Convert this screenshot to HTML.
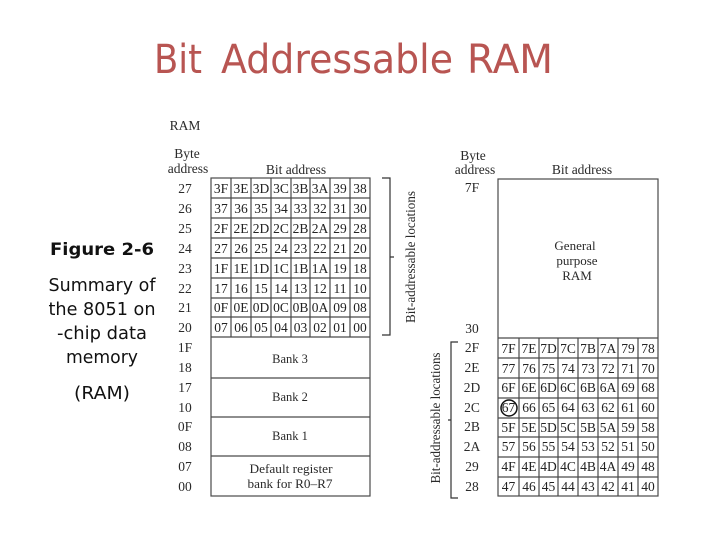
<!DOCTYPE html>
<html>
<head>
<meta charset="utf-8">
<style>
html,body{margin:0;padding:0;background:#fff;}
svg{display:block;}
.s{font-family:"Liberation Serif",serif;font-size:13.5px;fill:#2a2a2a;text-anchor:middle;}
.c{font-family:"Liberation Serif",serif;font-size:13.5px;fill:#222;text-anchor:middle;}
.f{font-family:"DejaVu Sans",sans-serif;font-size:18px;fill:#111;text-anchor:middle;}
.t{font-family:"DejaVu Sans",sans-serif;font-size:40px;fill:#b85552;}
.g{stroke:#4a4a4a;stroke-width:1.2;fill:none;}
.b{stroke:#333;stroke-width:1.2;fill:none;}
.d{filter:blur(0.35px);}
</style>
</head>
<body>
<svg width="720" height="540" viewBox="0 0 720 540" xmlns="http://www.w3.org/2000/svg">
<rect width="720" height="540" fill="#fff"/>
<text x="154" y="73" class="t" textLength="48" lengthAdjust="spacingAndGlyphs">Bit</text>
<text x="221" y="73" class="t" textLength="232" lengthAdjust="spacingAndGlyphs">Addressable</text>
<text x="467" y="73" class="t" textLength="86" lengthAdjust="spacingAndGlyphs">RAM</text>

<text x="102" y="255" class="f" font-weight="bold" textLength="104" lengthAdjust="spacingAndGlyphs" style="font-size:17px">Figure 2-6</text>
<text x="102" y="291" class="f" textLength="107" lengthAdjust="spacingAndGlyphs">Summary of</text>
<text x="102" y="315" class="f" textLength="107" lengthAdjust="spacingAndGlyphs">the 8051 on</text>
<text x="102" y="339" class="f" textLength="90" lengthAdjust="spacingAndGlyphs">-chip data</text>
<text x="102" y="363" class="f" textLength="72" lengthAdjust="spacingAndGlyphs">memory</text>
<text x="102" y="399" class="f" textLength="56" lengthAdjust="spacingAndGlyphs">(RAM)</text>

<g class="d">
<!-- left headers -->
<text x="185" y="130" class="s">RAM</text>
<text x="187" y="158" class="s">Byte</text>
<text x="188" y="173" class="s">address</text>
<text x="296" y="174" class="s">Bit address</text>

<!-- left address column -->
<g class="s">
<text x="185" y="193">27</text><text x="185" y="213">26</text><text x="185" y="233">25</text><text x="185" y="253">24</text>
<text x="185" y="273">23</text><text x="185" y="293">22</text><text x="185" y="312">21</text><text x="185" y="332">20</text>
<text x="185" y="352">1F</text><text x="185" y="372">18</text><text x="185" y="392">17</text><text x="185" y="412">10</text>
<text x="185" y="431">0F</text><text x="185" y="451">08</text><text x="185" y="471">07</text><text x="185" y="491">00</text>
</g>

<!-- left table grid -->
<g class="g">
<rect x="211" y="178" width="159" height="318"/>
<path d="M211 198H370M211 218H370M211 238H370M211 258H370M211 278H370M211 298H370M211 317H370M211 337H370M211 378H370M211 417H370M211 456H370"/>
<path d="M231 178V337M251 178V337M271 178V337M291 178V337M310 178V337M330 178V337M350 178V337"/>
</g>

<g class="c">
<text x="221" y="193">3F</text><text x="241" y="193">3E</text><text x="261" y="193">3D</text><text x="281" y="193">3C</text><text x="300.500" y="193">3B</text><text x="320" y="193">3A</text><text x="340" y="193">39</text><text x="360" y="193">38</text>
<text x="221" y="213">37</text><text x="241" y="213">36</text><text x="261" y="213">35</text><text x="281" y="213">34</text><text x="300.500" y="213">33</text><text x="320" y="213">32</text><text x="340" y="213">31</text><text x="360" y="213">30</text>
<text x="221" y="233">2F</text><text x="241" y="233">2E</text><text x="261" y="233">2D</text><text x="281" y="233">2C</text><text x="300.500" y="233">2B</text><text x="320" y="233">2A</text><text x="340" y="233">29</text><text x="360" y="233">28</text>
<text x="221" y="253">27</text><text x="241" y="253">26</text><text x="261" y="253">25</text><text x="281" y="253">24</text><text x="300.500" y="253">23</text><text x="320" y="253">22</text><text x="340" y="253">21</text><text x="360" y="253">20</text>
<text x="221" y="273">1F</text><text x="241" y="273">1E</text><text x="261" y="273">1D</text><text x="281" y="273">1C</text><text x="300.500" y="273">1B</text><text x="320" y="273">1A</text><text x="340" y="273">19</text><text x="360" y="273">18</text>
<text x="221" y="293">17</text><text x="241" y="293">16</text><text x="261" y="293">15</text><text x="281" y="293">14</text><text x="300.500" y="293">13</text><text x="320" y="293">12</text><text x="340" y="293">11</text><text x="360" y="293">10</text>
<text x="221" y="312">0F</text><text x="241" y="312">0E</text><text x="261" y="312">0D</text><text x="281" y="312">0C</text><text x="300.500" y="312">0B</text><text x="320" y="312">0A</text><text x="340" y="312">09</text><text x="360" y="312">08</text>
<text x="221" y="332">07</text><text x="241" y="332">06</text><text x="261" y="332">05</text><text x="281" y="332">04</text><text x="300.500" y="332">03</text><text x="320" y="332">02</text><text x="340" y="332">01</text><text x="360" y="332">00</text>
</g>

<g class="s" style="font-size:12.500px">
<text x="290" y="363">Bank 3</text>
<text x="290" y="401">Bank 2</text>
<text x="290" y="440">Bank 1</text>
<text x="291" y="473" textLength="83" lengthAdjust="spacingAndGlyphs">Default register</text>
<text x="290" y="488" textLength="85" lengthAdjust="spacingAndGlyphs">bank for R0–R7</text>
</g>

<!-- left bracket -->
<path class="b" d="M382 178H390V335H382M390 257H394"/>
<text transform="translate(415,257) rotate(-90)" class="s" textLength="132" lengthAdjust="spacingAndGlyphs">Bit-addressable locations</text>

<!-- right headers -->
<text x="473" y="160" class="s">Byte</text>
<text x="475" y="174" class="s">address</text>
<text x="582" y="174" class="s">Bit address</text>
<text x="472" y="192" class="s">7F</text>

<!-- right general purpose -->
<g class="s" style="font-size:13px">
<text x="575" y="250">General</text>
<text x="577" y="265">purpose</text>
<text x="577" y="280">RAM</text>
</g>

<!-- right address column -->
<g class="s">
<text x="472" y="333">30</text>
<text x="472" y="352">2F</text><text x="472" y="372">2E</text><text x="472" y="392">2D</text><text x="472" y="412">2C</text>
<text x="472" y="431">2B</text><text x="472" y="451">2A</text><text x="472" y="471">29</text><text x="472" y="491">28</text>
</g>

<!-- right table grid -->
<g class="g">
<rect x="498" y="179" width="160" height="317"/>
<path d="M498 338H658M498 358H658M498 378H658M498 398H658M498 418H658M498 437H658M498 457H658M498 477H658"/>
<path d="M519 338V496M539 338V496M558 338V496M578 338V496M598 338V496M618 338V496M638 338V496"/>
</g>

<g class="c">
<text x="508.500" y="353">7F</text><text x="529" y="353">7E</text><text x="548.500" y="353">7D</text><text x="568" y="353">7C</text><text x="588" y="353">7B</text><text x="608" y="353">7A</text><text x="628" y="353">79</text><text x="648" y="353">78</text>
<text x="508.500" y="373">77</text><text x="529" y="373">76</text><text x="548.500" y="373">75</text><text x="568" y="373">74</text><text x="588" y="373">73</text><text x="608" y="373">72</text><text x="628" y="373">71</text><text x="648" y="373">70</text>
<text x="508.500" y="392">6F</text><text x="529" y="392">6E</text><text x="548.500" y="392">6D</text><text x="568" y="392">6C</text><text x="588" y="392">6B</text><text x="608" y="392">6A</text><text x="628" y="392">69</text><text x="648" y="392">68</text>
<text x="508.500" y="412">67</text><text x="529" y="412">66</text><text x="548.500" y="412">65</text><text x="568" y="412">64</text><text x="588" y="412">63</text><text x="608" y="412">62</text><text x="628" y="412">61</text><text x="648" y="412">60</text>
<text x="508.500" y="432">5F</text><text x="529" y="432">5E</text><text x="548.500" y="432">5D</text><text x="568" y="432">5C</text><text x="588" y="432">5B</text><text x="608" y="432">5A</text><text x="628" y="432">59</text><text x="648" y="432">58</text>
<text x="508.500" y="451">57</text><text x="529" y="451">56</text><text x="548.500" y="451">55</text><text x="568" y="451">54</text><text x="588" y="451">53</text><text x="608" y="451">52</text><text x="628" y="451">51</text><text x="648" y="451">50</text>
<text x="508.500" y="471">4F</text><text x="529" y="471">4E</text><text x="548.500" y="471">4D</text><text x="568" y="471">4C</text><text x="588" y="471">4B</text><text x="608" y="471">4A</text><text x="628" y="471">49</text><text x="648" y="471">48</text>
<text x="508.500" y="491">47</text><text x="529" y="491">46</text><text x="548.500" y="491">45</text><text x="568" y="491">44</text><text x="588" y="491">43</text><text x="608" y="491">42</text><text x="628" y="491">41</text><text x="648" y="491">40</text>
</g>

<circle cx="509" cy="408" r="8" fill="none" stroke="#111" stroke-width="1.500"/>

<!-- right bracket -->
<path class="b" d="M458 342H451V498H458M451 420H448"/>
<text transform="translate(440,418) rotate(-90)" class="s" textLength="131" lengthAdjust="spacingAndGlyphs">Bit-addressable locations</text>
</g>
</svg>
</body>
</html>
